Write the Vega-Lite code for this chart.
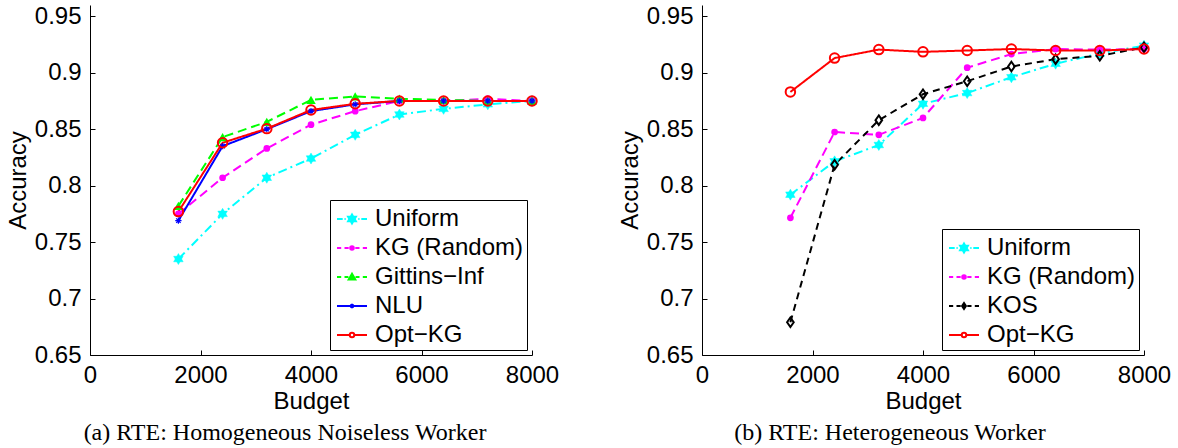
{
  "$schema": "https://vega.github.io/schema/vega-lite/v6.json",
  "background": "white",
  "padding": {"left": 6, "top": 4, "right": 0, "bottom": 0},
  "autosize": {"type": "pad"},
  "bounds": "flush",
  "spacing": 170,
  "datasets": {
    "homog": [
      {"method": "Uniform", "budget": 1600, "accuracy": 0.735},
      {"method": "Uniform", "budget": 2400, "accuracy": 0.775},
      {"method": "Uniform", "budget": 3200, "accuracy": 0.807},
      {"method": "Uniform", "budget": 4000, "accuracy": 0.824},
      {"method": "Uniform", "budget": 4800, "accuracy": 0.845},
      {"method": "Uniform", "budget": 5600, "accuracy": 0.863},
      {"method": "Uniform", "budget": 6400, "accuracy": 0.868},
      {"method": "Uniform", "budget": 7200, "accuracy": 0.872},
      {"method": "Uniform", "budget": 8000, "accuracy": 0.875},
      {"method": "KG (Random)", "budget": 1600, "accuracy": 0.775},
      {"method": "KG (Random)", "budget": 2400, "accuracy": 0.807},
      {"method": "KG (Random)", "budget": 3200, "accuracy": 0.833},
      {"method": "KG (Random)", "budget": 4000, "accuracy": 0.854},
      {"method": "KG (Random)", "budget": 4800, "accuracy": 0.866},
      {"method": "KG (Random)", "budget": 5600, "accuracy": 0.875},
      {"method": "KG (Random)", "budget": 6400, "accuracy": 0.875},
      {"method": "KG (Random)", "budget": 7200, "accuracy": 0.877},
      {"method": "KG (Random)", "budget": 8000, "accuracy": 0.875},
      {"method": "Gittins−Inf", "budget": 1600, "accuracy": 0.782},
      {"method": "Gittins−Inf", "budget": 2400, "accuracy": 0.843},
      {"method": "Gittins−Inf", "budget": 3200, "accuracy": 0.8565},
      {"method": "Gittins−Inf", "budget": 4000, "accuracy": 0.876},
      {"method": "Gittins−Inf", "budget": 4800, "accuracy": 0.879},
      {"method": "Gittins−Inf", "budget": 5600, "accuracy": 0.877},
      {"method": "Gittins−Inf", "budget": 6400, "accuracy": 0.876},
      {"method": "Gittins−Inf", "budget": 7200, "accuracy": 0.875},
      {"method": "Gittins−Inf", "budget": 8000, "accuracy": 0.875},
      {"method": "NLU", "budget": 1600, "accuracy": 0.769},
      {"method": "NLU", "budget": 2400, "accuracy": 0.835},
      {"method": "NLU", "budget": 3200, "accuracy": 0.850},
      {"method": "NLU", "budget": 4000, "accuracy": 0.866},
      {"method": "NLU", "budget": 4800, "accuracy": 0.872},
      {"method": "NLU", "budget": 5600, "accuracy": 0.875},
      {"method": "NLU", "budget": 6400, "accuracy": 0.875},
      {"method": "NLU", "budget": 7200, "accuracy": 0.875},
      {"method": "NLU", "budget": 8000, "accuracy": 0.875},
      {"method": "Opt−KG", "budget": 1600, "accuracy": 0.777},
      {"method": "Opt−KG", "budget": 2400, "accuracy": 0.838},
      {"method": "Opt−KG", "budget": 3200, "accuracy": 0.8505},
      {"method": "Opt−KG", "budget": 4000, "accuracy": 0.867},
      {"method": "Opt−KG", "budget": 4800, "accuracy": 0.8725},
      {"method": "Opt−KG", "budget": 5600, "accuracy": 0.875},
      {"method": "Opt−KG", "budget": 6400, "accuracy": 0.875},
      {"method": "Opt−KG", "budget": 7200, "accuracy": 0.875},
      {"method": "Opt−KG", "budget": 8000, "accuracy": 0.875}
    ],
    "hetero": [
      {"method": "Uniform", "budget": 1600, "accuracy": 0.792},
      {"method": "Uniform", "budget": 2400, "accuracy": 0.8215},
      {"method": "Uniform", "budget": 3200, "accuracy": 0.836},
      {"method": "Uniform", "budget": 4000, "accuracy": 0.8725},
      {"method": "Uniform", "budget": 4800, "accuracy": 0.882},
      {"method": "Uniform", "budget": 5600, "accuracy": 0.896},
      {"method": "Uniform", "budget": 6400, "accuracy": 0.908},
      {"method": "Uniform", "budget": 7200, "accuracy": 0.917},
      {"method": "Uniform", "budget": 8000, "accuracy": 0.924},
      {"method": "KG (Random)", "budget": 1600, "accuracy": 0.7715},
      {"method": "KG (Random)", "budget": 2400, "accuracy": 0.8475},
      {"method": "KG (Random)", "budget": 3200, "accuracy": 0.845},
      {"method": "KG (Random)", "budget": 4000, "accuracy": 0.86},
      {"method": "KG (Random)", "budget": 4800, "accuracy": 0.9045},
      {"method": "KG (Random)", "budget": 5600, "accuracy": 0.9165},
      {"method": "KG (Random)", "budget": 6400, "accuracy": 0.921},
      {"method": "KG (Random)", "budget": 7200, "accuracy": 0.9205},
      {"method": "KG (Random)", "budget": 8000, "accuracy": 0.921},
      {"method": "KOS", "budget": 1600, "accuracy": 0.679},
      {"method": "KOS", "budget": 2400, "accuracy": 0.8185},
      {"method": "KOS", "budget": 3200, "accuracy": 0.858},
      {"method": "KOS", "budget": 4000, "accuracy": 0.881},
      {"method": "KOS", "budget": 4800, "accuracy": 0.8925},
      {"method": "KOS", "budget": 5600, "accuracy": 0.9055},
      {"method": "KOS", "budget": 6400, "accuracy": 0.912},
      {"method": "KOS", "budget": 7200, "accuracy": 0.915},
      {"method": "KOS", "budget": 8000, "accuracy": 0.9225},
      {"method": "Opt−KG", "budget": 1600, "accuracy": 0.883},
      {"method": "Opt−KG", "budget": 2400, "accuracy": 0.913},
      {"method": "Opt−KG", "budget": 3200, "accuracy": 0.9205},
      {"method": "Opt−KG", "budget": 4000, "accuracy": 0.9185},
      {"method": "Opt−KG", "budget": 4800, "accuracy": 0.9197},
      {"method": "Opt−KG", "budget": 5600, "accuracy": 0.921},
      {"method": "Opt−KG", "budget": 6400, "accuracy": 0.9197},
      {"method": "Opt−KG", "budget": 7200, "accuracy": 0.9197},
      {"method": "Opt−KG", "budget": 8000, "accuracy": 0.921}
    ]
  },
  "resolve": {
    "scale": {"color": "independent", "strokeDash": "independent", "fill": "independent", "stroke": "independent", "shape": "independent"}
  },
  "hconcat": [
    {
      "width": 442,
      "height": 350,
      "data": {"name": "homog"},
      "title": {"text": "(a) RTE: Homogeneous Noiseless Worker", "orient": "bottom", "anchor": "middle", "font": "Liberation Serif", "fontSize": 24, "fontWeight": "normal", "color": "black", "offset": 8, "dx": -26},
      "encoding": {
        "x": {"field": "budget", "type": "quantitative", "scale": {"domain": [0, 8000], "nice": false, "zero": false}, "axis": {"title": "Budget", "values": [0, 2000, 4000, 6000, 8000], "format": "d"}},
        "y": {"field": "accuracy", "type": "quantitative", "scale": {"domain": [0.65, 0.96], "nice": false, "zero": false}, "axis": {"title": "Accuracy", "values": [0.65, 0.7, 0.75, 0.8, 0.85, 0.9, 0.95], "format": "~g"}}
      },
      "layer": [
        {
          "mark": {"type": "line", "strokeWidth": 2},
          "encoding": {
            "color": {"field": "method", "type": "nominal", "scale": {"domain": ["Opt−KG", "NLU", "Gittins−Inf", "KG (Random)", "Uniform"], "range": ["#ff0000", "#0000ff", "#00ff00", "#ff00ff", "#00ffff"]}, "legend": null},
            "strokeDash": {"field": "method", "type": "nominal", "scale": {"domain": ["Opt−KG", "NLU", "Gittins−Inf", "KG (Random)", "Uniform"], "range": [[1, 0], [1, 0], [9, 5], [9, 5], [9, 4, 2, 4]]}, "legend": null}
          }
        },
        {
          "transform": [{"filter": {"field": "method", "equal": "Uniform"}}],
          "mark": {"type": "point", "shape": "M0,-1L0.866,0.5L-0.866,0.5ZM0,1L-0.866,-0.5L0.866,-0.5Z", "filled": true, "fill": "#00ffff", "stroke": "#00ffff", "strokeWidth": 0.5, "size": 121, "opacity": 1}
        },
        {
          "transform": [{"filter": {"field": "method", "equal": "KG (Random)"}}],
          "mark": {"type": "point", "shape": "circle", "filled": true, "fill": "#ff00ff", "size": 45, "opacity": 1}
        },
        {
          "transform": [{"filter": {"field": "method", "equal": "Gittins−Inf"}}],
          "mark": {"type": "point", "shape": "triangle-up", "filled": true, "fill": "#00ff00", "size": 90, "opacity": 1}
        },
        {
          "transform": [{"filter": {"field": "method", "equal": "NLU"}}],
          "mark": {"type": "point", "shape": "M-1,0L1,0M0,-1L0,1M-0.7,-0.7L0.7,0.7M-0.7,0.7L0.7,-0.7", "filled": false, "stroke": "#0000ff", "strokeWidth": 1.2, "size": 40, "opacity": 1}
        },
        {
          "transform": [{"filter": {"field": "method", "equal": "Opt−KG"}}],
          "mark": {"type": "point", "shape": "circle", "filled": false, "stroke": "#ff0000", "strokeWidth": 2, "size": 90, "opacity": 1}
        },
        {
          "mark": {"type": "point", "filled": true, "strokeWidth": 2, "opacity": 0},
          "encoding": {
            "shape": {"field": "method", "type": "nominal", "scale": {"domain": ["Uniform", "KG (Random)", "Gittins−Inf", "NLU", "Opt−KG"], "range": [
              "M-1,0H-0.62M-0.5,0H-0.42M0.42,0H0.5M0.62,0H1M0,-0.3L0.26,0.15L-0.26,0.15ZM0,0.3L-0.26,-0.15L0.26,-0.15Z",
              "M-1,0H-0.72M-0.5,0H-0.22M0.22,0H0.5M0.72,0H1M-0.12,0A0.12,0.12 0 1,0 0.12,0A0.12,0.12 0 1,0 -0.12,0Z",
              "M-1,0H-0.72M-0.5,0H-0.24M0.24,0H0.5M0.72,0H1M0,-0.22L0.22,0.16L-0.22,0.16Z",
              "M-1,0H1M0,-0.15V0.15M-0.13,-0.08L0.13,0.08M-0.13,0.08L0.13,-0.08",
              "M-1,0H-0.15M0.15,0H1M-0.15,0A0.15,0.15 0 1,0 0.15,0A0.15,0.15 0 1,0 -0.15,0Z"
            ]}, "legend": {"title": null}},
            "fill": {"field": "method", "type": "nominal", "scale": {"domain": ["Uniform", "KG (Random)", "Gittins−Inf", "NLU", "Opt−KG"], "range": ["#00ffff", "#ff00ff", "#00ff00", "#0000ff", "transparent"]}, "legend": {"title": null}},
            "stroke": {"field": "method", "type": "nominal", "scale": {"domain": ["Uniform", "KG (Random)", "Gittins−Inf", "NLU", "Opt−KG"], "range": ["#00ffff", "#ff00ff", "#00ff00", "#0000ff", "#ff0000"]}, "legend": {"title": null}}
          }
        }
      ]
    },
    {
      "width": 442,
      "height": 350,
      "data": {"name": "hetero"},
      "title": {"text": "(b) RTE: Heterogeneous Worker", "orient": "bottom", "anchor": "middle", "font": "Liberation Serif", "fontSize": 24, "fontWeight": "normal", "color": "black", "offset": 8, "dx": -33},
      "encoding": {
        "x": {"field": "budget", "type": "quantitative", "scale": {"domain": [0, 8000], "nice": false, "zero": false}, "axis": {"title": "Budget", "values": [0, 2000, 4000, 6000, 8000], "format": "d"}},
        "y": {"field": "accuracy", "type": "quantitative", "scale": {"domain": [0.65, 0.96], "nice": false, "zero": false}, "axis": {"title": "Accuracy", "values": [0.65, 0.7, 0.75, 0.8, 0.85, 0.9, 0.95], "format": "~g"}}
      },
      "layer": [
        {
          "mark": {"type": "line", "strokeWidth": 2},
          "encoding": {
            "color": {"field": "method", "type": "nominal", "scale": {"domain": ["Opt−KG", "KOS", "KG (Random)", "Uniform"], "range": ["#ff0000", "#000000", "#ff00ff", "#00ffff"]}, "legend": null},
            "strokeDash": {"field": "method", "type": "nominal", "scale": {"domain": ["Opt−KG", "KOS", "KG (Random)", "Uniform"], "range": [[1, 0], [7, 5], [9, 5], [9, 4, 2, 4]]}, "legend": null}
          }
        },
        {
          "transform": [{"filter": {"field": "method", "equal": "Uniform"}}],
          "mark": {"type": "point", "shape": "M0,-1L0.866,0.5L-0.866,0.5ZM0,1L-0.866,-0.5L0.866,-0.5Z", "filled": true, "fill": "#00ffff", "stroke": "#00ffff", "strokeWidth": 0.5, "size": 121, "opacity": 1}
        },
        {
          "transform": [{"filter": {"field": "method", "equal": "KG (Random)"}}],
          "mark": {"type": "point", "shape": "circle", "filled": true, "fill": "#ff00ff", "size": 45, "opacity": 1}
        },
        {
          "transform": [{"filter": {"field": "method", "equal": "KOS"}}],
          "mark": {"type": "point", "shape": "M0,-1L0.7,0L0,1L-0.7,0Z", "filled": false, "stroke": "#000000", "strokeWidth": 2, "size": 90, "opacity": 1}
        },
        {
          "transform": [{"filter": {"field": "method", "equal": "Opt−KG"}}],
          "mark": {"type": "point", "shape": "circle", "filled": false, "stroke": "#ff0000", "strokeWidth": 2, "size": 90, "opacity": 1}
        },
        {
          "mark": {"type": "point", "filled": true, "strokeWidth": 2, "opacity": 0},
          "encoding": {
            "shape": {"field": "method", "type": "nominal", "scale": {"domain": ["Uniform", "KG (Random)", "KOS", "Opt−KG"], "range": [
              "M-1,0H-0.62M-0.5,0H-0.42M0.42,0H0.5M0.62,0H1M0,-0.3L0.26,0.15L-0.26,0.15ZM0,0.3L-0.26,-0.15L0.26,-0.15Z",
              "M-1,0H-0.72M-0.5,0H-0.22M0.22,0H0.5M0.72,0H1M-0.12,0A0.12,0.12 0 1,0 0.12,0A0.12,0.12 0 1,0 -0.12,0Z",
              "M-1,0H-0.72M-0.5,0H-0.22M0.22,0H0.5M0.72,0H1M0,-0.2L0.13,0L0,0.2L-0.13,0Z",
              "M-1,0H-0.15M0.15,0H1M-0.15,0A0.15,0.15 0 1,0 0.15,0A0.15,0.15 0 1,0 -0.15,0Z"
            ]}, "legend": {"title": null}},
            "fill": {"field": "method", "type": "nominal", "scale": {"domain": ["Uniform", "KG (Random)", "KOS", "Opt−KG"], "range": ["#00ffff", "#ff00ff", "#000000", "transparent"]}, "legend": {"title": null}},
            "stroke": {"field": "method", "type": "nominal", "scale": {"domain": ["Uniform", "KG (Random)", "KOS", "Opt−KG"], "range": ["#00ffff", "#ff00ff", "#000000", "#ff0000"]}, "legend": {"title": null}}
          }
        }
      ]
    }
  ],
  "config": {
    "view": {"stroke": null},
    "axis": {"domainColor": "black", "domainWidth": 1, "tickColor": "black", "tickWidth": 1, "tickSize": -5, "labelColor": "black", "titleColor": "black", "labelFont": "Liberation Sans", "titleFont": "Liberation Sans", "labelFontSize": 24, "titleFontSize": 24, "titleFontWeight": "normal", "grid": false, "labelFlush": false, "labelOverlap": false},
    "axisX": {"labelPadding": 13, "titlePadding": 2},
    "axisY": {"labelPadding": 14, "titlePadding": 4},
    "legend": {"orient": "bottom-right", "offset": 5, "symbolSize": 900, "symbolStrokeWidth": 2, "symbolOpacity": 1, "symbolFillColor": "transparent", "symbolStrokeColor": "transparent", "symbolOffset": 3, "labelOffset": 7, "rowPadding": 1, "padding": 3, "strokeColor": "black", "fillColor": "white", "labelFont": "Liberation Sans", "labelFontSize": 24, "labelColor": "black", "labelLimit": 300}
  }
}
